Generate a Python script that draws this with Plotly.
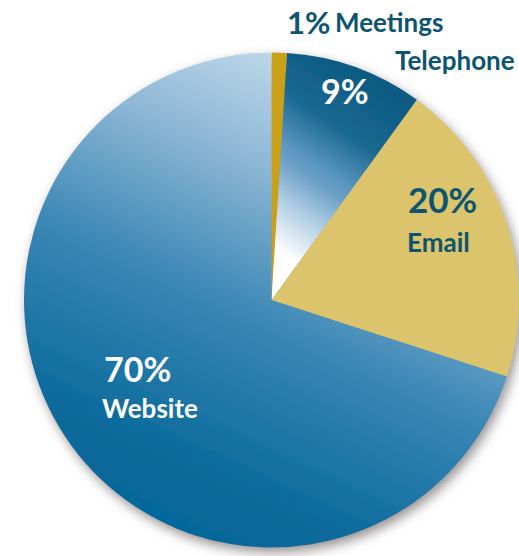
import plotly.graph_objects as go

# Share of enquiries by contact channel (percent)
channels = ["Meetings", "Telephone", "Email", "Website"]
shares = [1, 9, 20, 70]
slice_colors = ["#c9a018", "#0b5f86", "#dbc46c", "#2f80b0"]

W, H = 519, 556
TEXT_DARK = "#0d5470"
FONT = "Lato, 'Open Sans', sans-serif"


def px(x):
    return x / W


def py(y):
    return 1 - y / H


fig = go.Figure(
    go.Pie(
        labels=channels,
        values=shares,
        sort=False,
        direction="clockwise",
        rotation=0,
        marker=dict(colors=slice_colors, line=dict(width=0)),
        textinfo="none",
        hoverinfo="skip",
        showlegend=False,
        domain=dict(x=[24 / W, 1.0], y=[8.5 / H, 503.5 / H]),
    )
)

share_of = dict(zip(channels, shares))


def pct(name):
    return f"{share_of[name]}%"


labels = [
    # text, x, y, size, color
    (pct("Meetings"), 308, 22, 31, TEXT_DARK),
    ("Meetings", 389, 22, 26, TEXT_DARK),
    ("Telephone", 455, 60, 26, TEXT_DARK),
    (pct("Telephone"), 345, 90, 34, "white"),
    (pct("Email"), 442, 199, 35, TEXT_DARK),
    ("Email", 438, 242, 26, TEXT_DARK),
    (pct("Website"), 137, 368, 34, "white"),
    ("Website", 150, 408, 26, "white"),
]

fig.update_layout(
    width=W,
    height=H,
    margin=dict(l=0, r=0, t=0, b=0),
    paper_bgcolor="white",
    plot_bgcolor="white",
    annotations=[
        dict(
            text=t, x=px(x), y=py(y), xref="paper", yref="paper",
            xanchor="center", yanchor="middle", showarrow=False,
            font=dict(family=FONT, size=s, color=c, weight="bold"),
        )
        for t, x, y, s, c in labels
    ],
)

# Gradient fills for the blue slices and a soft drop shadow under the pie
post = """
var gd = document.getElementById('{plot_id}');
var ns = 'http://www.w3.org/2000/svg';
var svg = gd.querySelector('svg.main-svg');
var defs = svg.querySelector('defs');
if (!defs) { defs = document.createElementNS(ns, 'defs'); svg.insertBefore(defs, svg.firstChild); }
function grad(id, x1, y1, x2, y2, stops) {
  var g = document.createElementNS(ns, 'linearGradient');
  g.setAttribute('id', id);
  g.setAttribute('x1', x1); g.setAttribute('y1', y1);
  g.setAttribute('x2', x2); g.setAttribute('y2', y2);
  stops.forEach(function(s) {
    var st = document.createElementNS(ns, 'stop');
    st.setAttribute('offset', s[0]);
    st.setAttribute('stop-color', s[1]);
    g.appendChild(st);
  });
  defs.appendChild(g);
}
grad('gradWeb', 0.75, 0.0, 0.3, 1.0,
     [[0, '#d4e5f1'], [0.28, '#8fb8d6'], [0.55, '#3a87b5'], [0.85, '#0a6a9b'], [1, '#04669a']]);
grad('gradTel', 0.055, -0.138, -0.328, 0.819,
     [[0, '#0a5a83'], [0.25, '#1a6890'], [0.45, '#5d98c2'], [0.5, '#6a9fc6'],
      [0.66, '#b3cfe4'], [0.85, '#ffffff'], [1, '#ffffff']]);
var f = document.createElementNS(ns, 'filter');
f.setAttribute('id', 'pieShadow');
f.setAttribute('x', '-10%'); f.setAttribute('y', '-10%');
f.setAttribute('width', '125%'); f.setAttribute('height', '125%');
var ds = document.createElementNS(ns, 'feDropShadow');
ds.setAttribute('dx', '3'); ds.setAttribute('dy', '5');
ds.setAttribute('stdDeviation', '6');
ds.setAttribute('flood-color', '#6b6363');
ds.setAttribute('flood-opacity', '0.7');
f.appendChild(ds);
defs.appendChild(f);
var slices = gd.querySelectorAll('g.pielayer g.slice');
slices.forEach(function(s, k) {
  var i = (s.__data__ && s.__data__.i !== undefined) ? s.__data__.i : k;
  var p = s.querySelector('path.surface');
  if (i === 3) p.style.fill = 'url(#gradWeb)';
  if (i === 1) p.style.fill = 'url(#gradTel)';
});
var tr = gd.querySelector('g.pielayer g.trace');
if (tr) tr.setAttribute('filter', 'url(#pieShadow)');
"""

fig.write_html("out.html", post_script=post, config=dict(displayModeBar=False))
